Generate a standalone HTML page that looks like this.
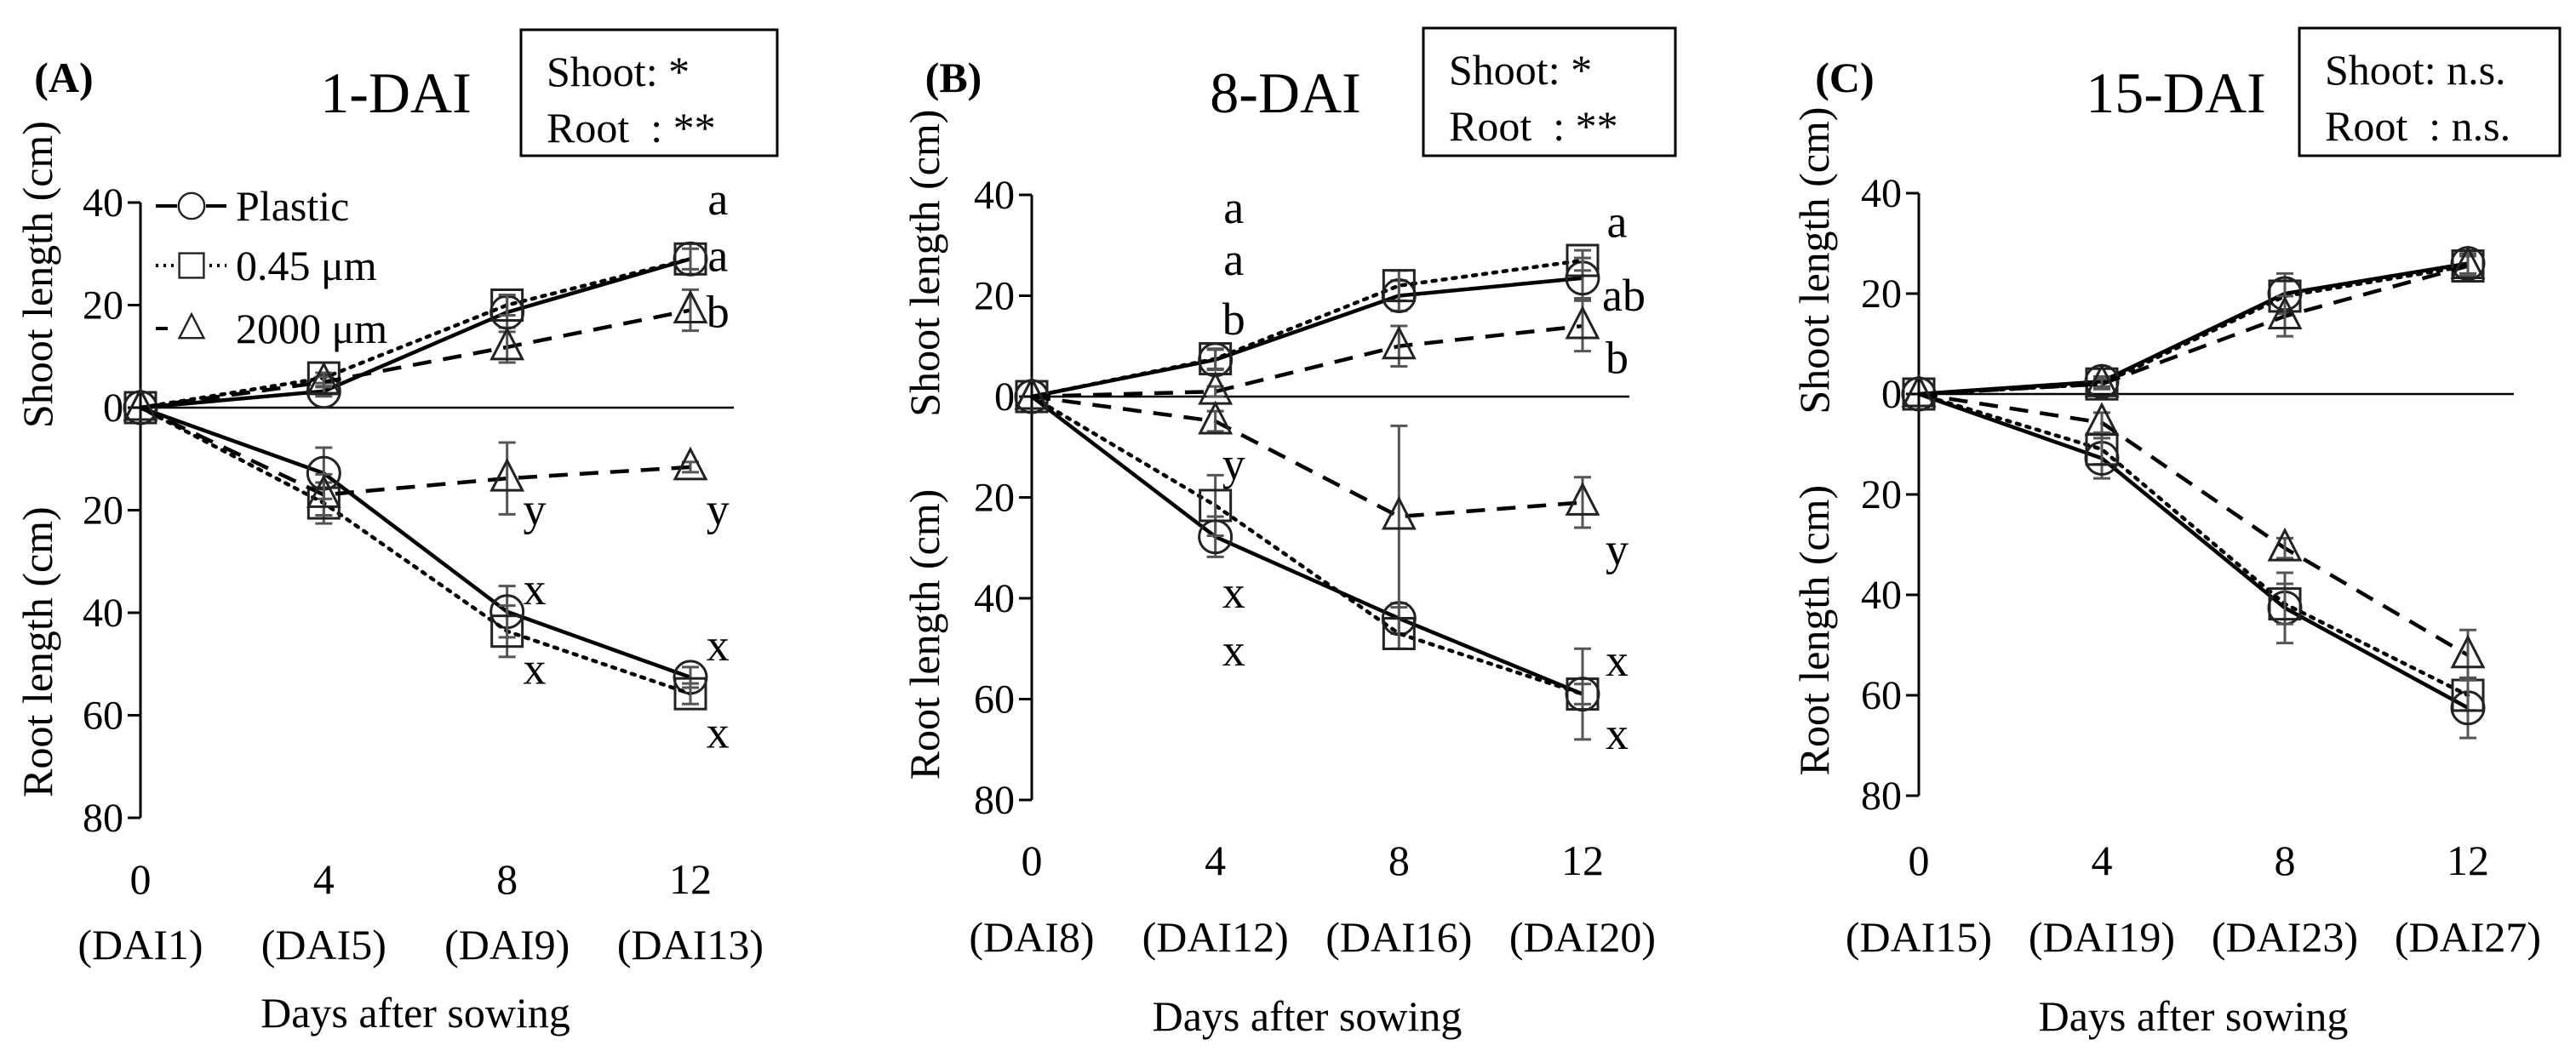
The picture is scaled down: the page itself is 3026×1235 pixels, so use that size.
<!DOCTYPE html>
<html><head><meta charset="utf-8"><style>
html,body{margin:0;padding:0;background:#fff;}
svg{display:block;}
svg text{font-family:"Liberation Serif","Times New Roman",serif !important;white-space:pre;}
</style></head><body>
<svg id="chart" width="3026" height="1235" viewBox="0 0 3026 1235" xmlns="http://www.w3.org/2000/svg" font-family="Liberation Serif, serif"></svg>
<script>
// ---- data ----
const days = [0, 4, 8, 12];
const yTickLabels = ["40","20","0","20","40","60","80"];
const yTickValues = [40,20,0,-20,-40,-60,-80];
const seriesNames = ["Plastic","0.45 μm","2000 μm"];
const panelTitles = ["1-DAI","8-DAI","15-DAI"];
const panelTags = ["(A)","(B)","(C)"];
const daiLabels = [["(DAI1)","(DAI5)","(DAI9)","(DAI13)"],["(DAI8)","(DAI12)","(DAI16)","(DAI20)"],["(DAI15)","(DAI19)","(DAI23)","(DAI27)"]];
const statShoot = ["*","*","n.s."];
const statRoot = ["**","**","n.s."];
const shootA = [[0,3.2,18.6,29],[0,5.8,20,29],[0,5,11.8,19]];
const rootA  = [[0,12.8,39.8,52.6],[0,18.6,43.6,55.8],[0,17,13.8,11.6]];
const shootB = [[0,7.3,20,23.5],[0,7.5,22,27],[0,1,10,14]];
const rootB  = [[0,27.8,44,59],[0,21.6,47,59],[0,4.9,23.8,21]];
const shootC = [[0,2.5,20,26],[0,2,19.5,25.5],[0,2,15.5,25.5]];
const rootC  = [[0,12.8,42.6,62.5],[0,11,41.8,60],[0,5.7,30.7,52]];
const shootErrA = [[0,1,3,3],[0,1,2,2],[0,1,3,4]];
const rootErrA  = [[0,5,5,2],[0,4,5,2],[0,4,7,1]];
const shootErrB = [[0,2,3,4],[0,2,3,2],[0,1,4,5]];
const rootErrB  = [[0,4,3,9],[0,6,3,2],[0,2,18,5]];
const shootErrC = [[0,1,4,2],[0,1,3,2],[0,1,4,2]];
const rootErrC  = [[0,4,7,6],[0,3,4,3],[0,2,2,5]];
const lettersA = [[12.6,40,"a"],[12.6,29,"a"],[12.6,18,"b"],[8.6,-20.5,"y"],[12.6,-20.5,"y"],[8.6,-36,"x"],[8.6,-51.5,"x"],[12.6,-47,"x"],[12.6,-64,"x"]];
const lettersB = [[4.4,36.8,"a"],[4.4,26.5,"a"],[4.4,14.7,"b"],[4.4,-14,"y"],[4.4,-39.5,"x"],[4.4,-51,"x"],[12.75,34,"a"],[12.9,19.4,"ab"],[12.75,7,"b"],[12.75,-31,"y"],[12.75,-53,"x"],[12.75,-67.5,"x"]];
const lettersC = [];

const panels = [
 {x0:165,x12:811,y0:479,y40:238,zeroEnd:862,tagX:75,titleX:465,box:[612,35,301,148],shoot:shootA,root:rootA,se:shootErrA,re:rootErrA,let:lettersA,ttlX:45,tickY:1033,daiY:1110,daysY:1190,legend:true},
 {x0:1212,x12:1859,y0:466,y40:229,zeroEnd:1914,tagX:1120,titleX:1510,box:[1672,33,296,150],shoot:shootB,root:rootB,se:shootErrB,re:rootErrB,let:lettersB,ttlX:1087,tickY:1011,daiY:1101,daysY:1194,legend:false},
 {x0:2254,x12:2899,y0:463,y40:227,zeroEnd:2953,tagX:2167,titleX:2556,box:[2701,33,306,150],shoot:shootC,root:rootC,se:shootErrC,re:rootErrC,let:lettersC,ttlX:2132,tickY:1011,daiY:1101,daysY:1194,legend:false}
];
const NS="http://www.w3.org/2000/svg";
const svg=document.getElementById('chart');
function mk(tag,attrs,parent){const e=document.createElementNS(NS,tag);for(const k in attrs)e.setAttribute(k,attrs[k]);if(tag==='text')e.setAttribute('font-family','Liberation Serif, serif');(parent||svg).appendChild(e);return e;}
const dashes=[null,"4 8","22 14"];
const widths=[4.5,4.5,4.5];

function marker(g,k,cx,cy){
  let m;
  if(k===0) m=mk('circle',{cx:cx,cy:cy,r:19,fill:'none',stroke:'#222','stroke-width':3},g);
  else if(k===1) m=mk('rect',{x:cx-18,y:cy-18,width:36,height:36,fill:'none',stroke:'#222','stroke-width':3},g);
  else m=mk('polygon',{points:(cx)+','+(cy-21)+' '+(cx-18)+','+(cy+14)+' '+(cx+18)+','+(cy+14),fill:'none',stroke:'#222','stroke-width':3},g);
  return m;
}

panels.forEach((p,pi)=>{
  const sx=d=>p.x0+(p.x12-p.x0)*d/12;
  const ky=(p.y0-p.y40)/40;
  const sy=v=>p.y0-v*ky;
  const g=mk('g',{});
  
  
  let t=mk('text',{x:p.tagX,y:108,'font-size':50,'font-weight':'bold','text-anchor':'middle'},g);t.textContent=panelTags[pi];
  
  t=mk('text',{x:p.titleX,y:132,'font-size':68,'text-anchor':'middle'},g);t.textContent=panelTitles[pi];
  
  const b=p.box;
  let r=mk('rect',{x:b[0],y:b[1],width:b[2],height:b[3],fill:'#fff',stroke:'#000','stroke-width':3},g);
  
  t=mk('text',{x:b[0]+30,y:b[1]+66,'font-size':50},g);t.textContent='Shoot: '+statShoot[pi];
  
  t=mk('text',{x:b[0]+30,y:b[1]+132,'font-size':50},g);t.textContent='Root  : '+statRoot[pi];
  
  let ax=mk('line',{x1:p.x0,y1:sy(40),x2:p.x0,y2:sy(-80),stroke:'#000','stroke-width':3},g);
  
  yTickValues.forEach((v,i)=>{
    mk('line',{x1:p.x0-15,y1:sy(v),x2:p.x0,y2:sy(v),stroke:'#000','stroke-width':3},g);
    const tl=mk('text',{x:p.x0-20,y:sy(v)+16,'font-size':48,'text-anchor':'end'},g);tl.textContent=yTickLabels[i];
    
  });
  let zl=mk('line',{x1:p.x0,y1:sy(0),x2:p.zeroEnd,y2:sy(0),stroke:'#000','stroke-width':2.5},g);
  
  t=mk('text',{x:0,y:0,'font-size':50,'text-anchor':'start',transform:'translate('+(p.ttlX+16)+','+(sy(-4))+') rotate(-90)'},g);t.textContent='Shoot length (cm)';
  
  t=mk('text',{x:0,y:0,'font-size':50,'text-anchor':'start',transform:'translate('+(p.ttlX+16)+','+(sy(-76))+') rotate(-90)'},g);t.textContent='Root length (cm)';
  
  days.forEach((d,i)=>{
    const xl=mk('text',{x:sx(d),y:p.tickY+17,'font-size':50,'text-anchor':'middle'},g);xl.textContent=String(d);
    
    const dl=mk('text',{x:sx(d),y:p.daiY+17,'font-size':50,'text-anchor':'middle'},g);dl.textContent=daiLabels[pi][i];
    
  });
  t=mk('text',{x:(sx(0)+sx(12))/2,y:p.daysY+17,'font-size':50,'text-anchor':'middle'},g);t.textContent='Days after sowing';
  
  for(let k=0;k<3;k++){
    [[p.shoot[k],p.se[k],1],[p.root[k],p.re[k],-1]].forEach(([vals,errs,sg],part)=>{
      const sgName=part===0?'shoot':'root';
      const pts=days.map((d,i)=>sx(d)+','+sy(sg*vals[i])).join(' ');
      const ln=mk('polyline',{points:pts,fill:'none',stroke:'#000','stroke-width':widths[k],'stroke-linecap':k===1?'round':'butt'},g);
      if(dashes[k])ln.setAttribute('stroke-dasharray',dashes[k]);
      
      
      days.forEach((d,i)=>{
        const cx=sx(d),cy=sy(sg*vals[i]);
        if(errs[i]>0){
          const y1=sy(sg*vals[i]+errs[i]),y2=sy(sg*vals[i]-errs[i]);
          const eb=mk('path',{d:'M'+cx+' '+y1+'V'+y2+'M'+(cx-10)+' '+y1+'H'+(cx+10)+'M'+(cx-10)+' '+y2+'H'+(cx+10),stroke:'#555','stroke-width':3,fill:'none'},g);
          
          
        }
        const m=marker(g,k,cx,cy);
        
        
      });
    });
  }
  p.let.forEach(L=>{
    const lt=mk('text',{x:sx(L[0]),y:sy(L[1])+14,'font-size':54,'text-anchor':'middle'},g);lt.textContent=L[2];
    
    
  });
  if(p.legend){
    const lg=mk('g',{},g);
    
    [242,312,386].forEach((yy,k)=>{
      const e=mk('g',{},lg);
      
      const l=mk('line',{x1:183,y1:yy,x2:266,y2:yy,stroke:'#000','stroke-width':4},e);
      if(dashes[k])l.setAttribute('stroke-dasharray',k===1?'3 6':'14 30');
      mk('rect',{x:208,y:yy-17,width:34,height:34,fill:'#fff'},e);
      marker(e,k,225,yy).setAttribute('transform','translate(225,'+yy+') scale(0.8) translate(-225,'+(-yy)+')');
      const tx=mk('text',{x:277,y:yy+17,'font-size':50},e);tx.textContent=seriesNames[k];
    });
  }
});
</script>
</body></html>
